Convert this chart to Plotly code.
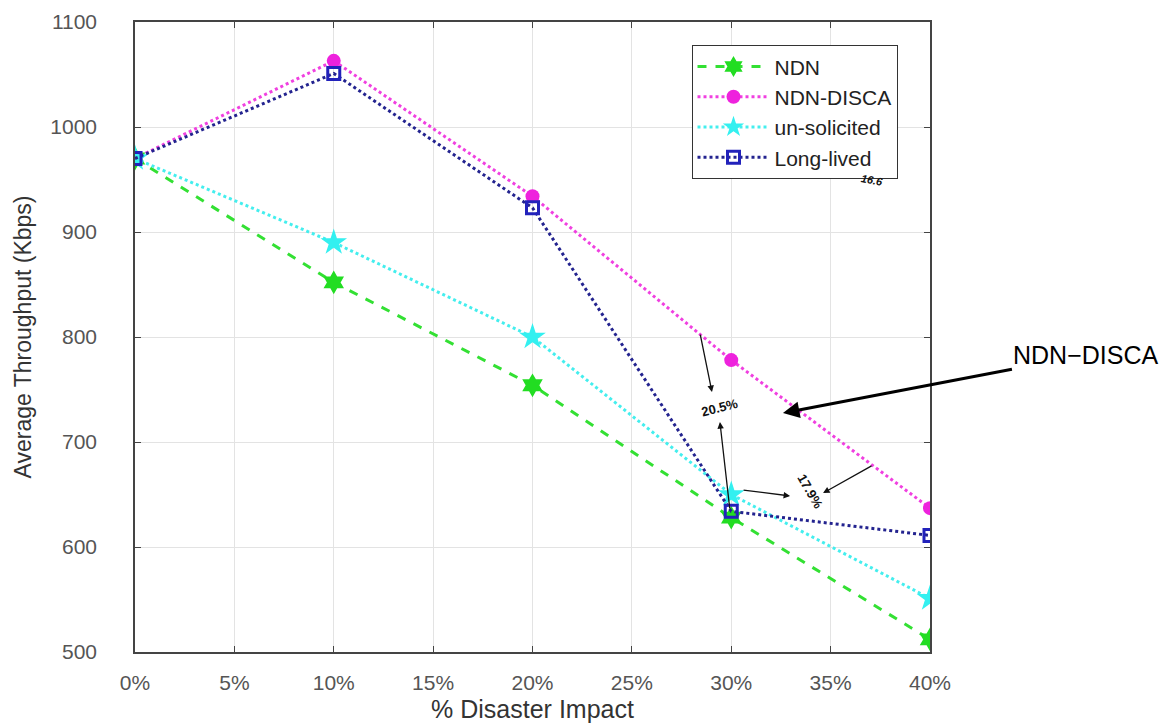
import plotly.graph_objects as go

impact = [0, 10, 20, 30, 40]
ndn = [970, 852, 754, 628, 512]
ndn_disca = [970, 1063, 934, 778, 637]
unsolicited = [970, 890, 800, 650, 551]
long_lived = [970, 1051, 923, 634, 611]

x_ticks = [0, 5, 10, 15, 20, 25, 30, 35, 40]
x_ticktext = [f"{v}%" for v in x_ticks]
y_ticks = [500, 600, 700, 800, 900, 1000, 1100]

FONT = "Liberation Sans, Arial, sans-serif"

fig = go.Figure()
fig.add_trace(go.Scatter(
    x=impact, y=ndn, name="NDN", mode="lines+markers",
    line=dict(color="#33E033", width=3, dash="dash"),
    marker=dict(symbol="hexagram", size=18, color="#22DD22")))
fig.add_trace(go.Scatter(
    x=impact, y=ndn_disca, name="NDN-DISCA", mode="lines+markers",
    line=dict(color="#F040E0", width=3, dash="dot"),
    marker=dict(symbol="circle", size=14, color="#EE22DD")))
fig.add_trace(go.Scatter(
    x=impact, y=unsolicited, name="un-solicited", mode="lines+markers",
    line=dict(color="#44EEEE", width=3, dash="dot"),
    marker=dict(symbol="star", size=20, color="#33F0F0")))
fig.add_trace(go.Scatter(
    x=impact, y=long_lived, name="Long-lived", mode="lines+markers",
    line=dict(color="#23238F", width=3, dash="dot"),
    marker=dict(symbol="square-open", size=12, color="#2222BB",
                line=dict(width=3, color="#2222BB"))))

axis_common = dict(
    showline=True, linecolor="#444444", linewidth=1.5, mirror="ticks",
    ticks="inside", ticklen=6, tickcolor="#444444",
    showgrid=True, gridcolor="#E3E3E3", gridwidth=1, zeroline=False,
    tickfont=dict(family=FONT, size=21, color="#555555"),
    automargin=False,
)

fig.update_xaxes(range=[0, 40], tickvals=x_ticks, ticktext=x_ticktext,
                 title=dict(text="% Disaster Impact", font=dict(family=FONT, size=25, color="#333333"), standoff=8),
                 ticklabelstandoff=11, **axis_common)
fig.update_yaxes(range=[500, 1100], tickvals=y_ticks,
                 title=dict(text="Average Throughput (Kbps)", font=dict(family=FONT, size=23, color="#333333"), standoff=12),
                 ticklabelstandoff=32, **axis_common)

ann_font = dict(family=FONT, size=13, color="#111111")
annotations = [
    # big arrow with label in right margin
    dict(x=32.6, y=727.6, xref="x", yref="y", text="NDN\u2212DISCA",
         showarrow=True, ax=303, ay=-58, arrowhead=2, arrowsize=1.1, arrowwidth=3,
         arrowcolor="#000000", font=dict(family=FONT, size=25, color="#000000")),
    # small arrows
    dict(x=29.03, y=747.6, xref="x", yref="y", text="", showarrow=True,
         ax=-12, ay=-59, arrowhead=2, arrowwidth=1.3, arrowcolor="#111111"),
    dict(x=29.43, y=719, xref="x", yref="y", text="", showarrow=True,
         ax=10, ay=88, arrowhead=2, arrowwidth=1.3, arrowcolor="#111111"),
    dict(x=32.96, y=648.6, xref="x", yref="y", text="", showarrow=True,
         ax=-48, ay=-6, arrowhead=2, arrowwidth=1.3, arrowcolor="#111111"),
    dict(x=34.62, y=651.4, xref="x", yref="y", text="", showarrow=True,
         ax=50, ay=-28, arrowhead=2, arrowwidth=1.3, arrowcolor="#111111"),
    # percentage labels
    dict(x=29.43, y=733.3, xref="x", yref="y", text="<b>20.5%</b>", showarrow=False,
         textangle=-14, font=ann_font),
    dict(x=33.96, y=652.4, xref="x", yref="y", text="<b>17.9%</b>", showarrow=False,
         textangle=60, font=ann_font),
    dict(x=37.08, y=949.5, xref="x", yref="y", text="<b><i>16.6</i></b>", showarrow=False,
         textangle=10, font=dict(family=FONT, size=11, color="#111111")),
]

fig.update_layout(
    width=1166, height=727,
    margin=dict(l=135, r=236, t=22, b=75),
    plot_bgcolor="white", paper_bgcolor="white",
    font=dict(family=FONT),
    annotations=annotations,
    legend=dict(x=0.70, y=0.963, xanchor="left", yanchor="top",
                bgcolor="white", bordercolor="#333333", borderwidth=1,
                font=dict(family=FONT, size=21, color="#222222"),
                tracegroupgap=0, itemwidth=72),
    showlegend=True,
)

fig.write_html("out.html")
